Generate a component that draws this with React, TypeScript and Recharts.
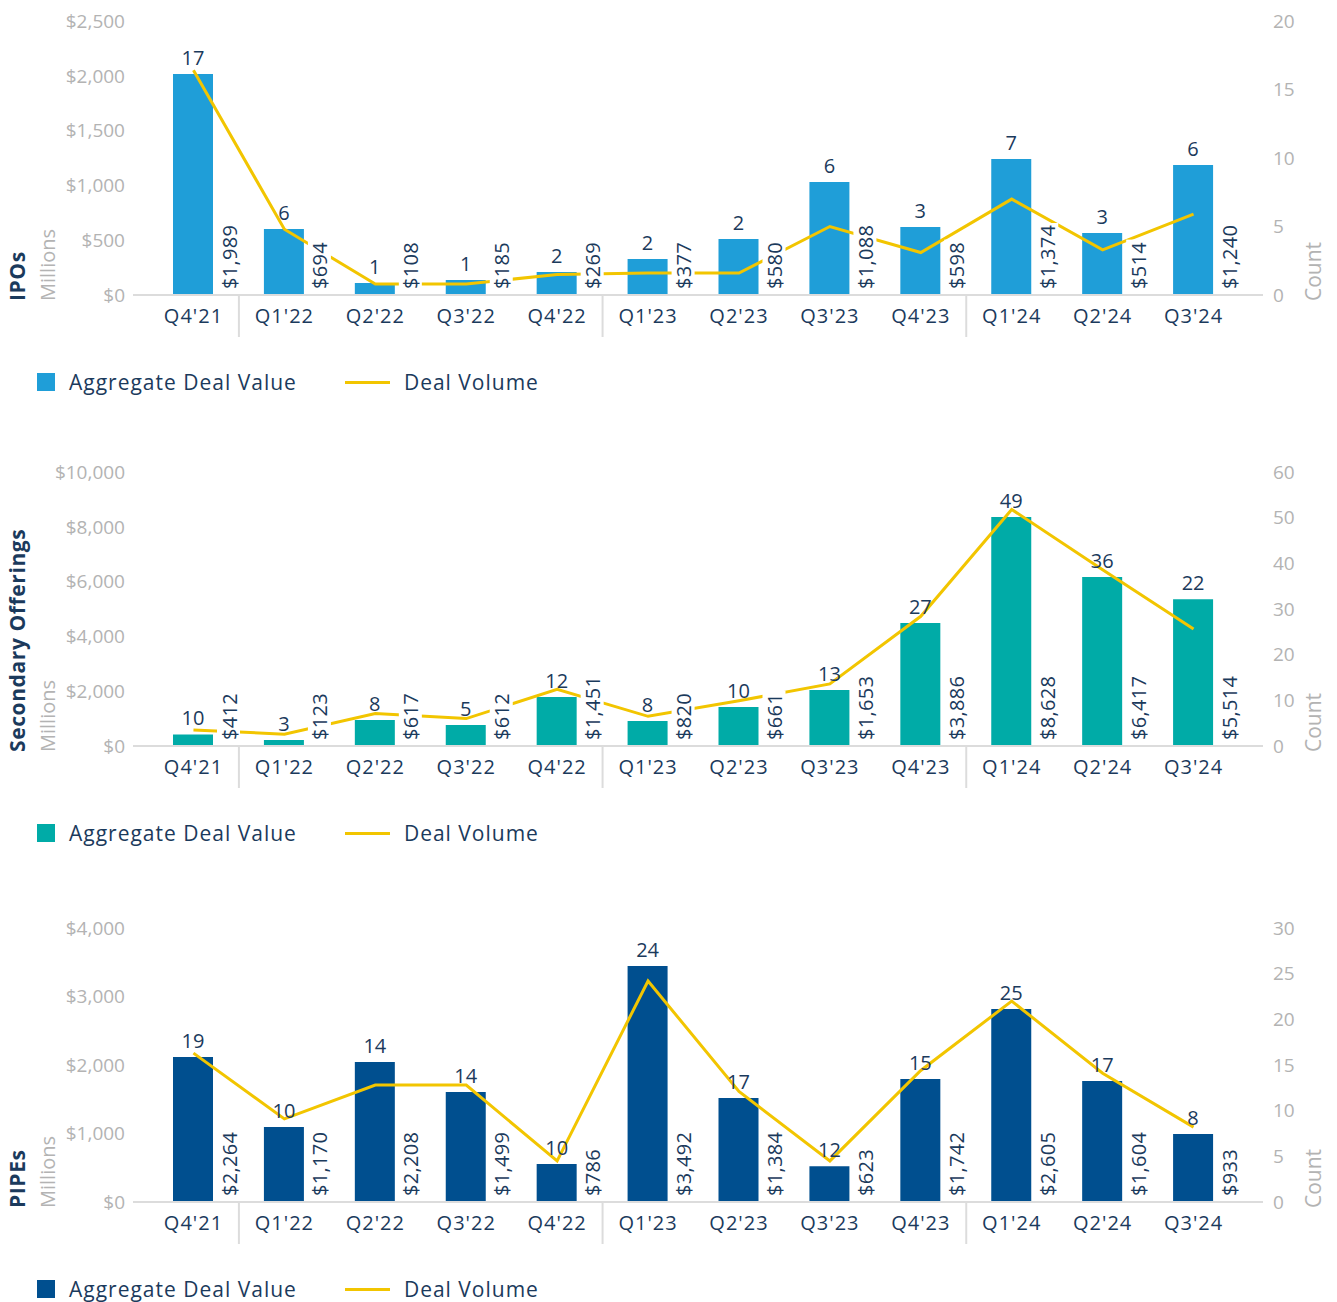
import {
  ComposedChart,
  Bar,
  Line,
  XAxis,
  YAxis,
  LabelList,
} from 'recharts';

const quarters = ["Q4'21", "Q1'22", "Q2'22", "Q3'22", "Q4'22", "Q1'23", "Q2'23", "Q3'23", "Q4'23", "Q1'24", "Q2'24", "Q3'24"];

// IPOs
const ipoValues = [2017, 602, 110, 137, 210, 328, 511, 1031, 620, 1241, 566, 1186];
const ipoValueLabels = ['$1,989', '$694', '$108', '$185', '$269', '$377', '$580', '$1,088', '$598', '$1,374', '$514', '$1,240'];
const ipoVolume = [16.4, 4.8, 0.8, 0.8, 1.5, 1.6, 1.6, 5.0, 3.1, 7.0, 3.3, 5.9];
const ipoCountLabels = [17, 6, 1, 1, 2, 2, 2, 6, 3, 7, 3, 6];

// Secondary offerings
const secValues = [420, 220, 950, 770, 1790, 910, 1420, 2040, 4490, 8360, 6170, 5360];
const secValueLabels = ['$412', '$123', '$617', '$612', '$1,451', '$820', '$661', '$1,653', '$3,886', '$8,628', '$6,417', '$5,514'];
const secVolume = [3.5, 2.6, 7.1, 6.0, 12.4, 6.5, 9.9, 13.6, 28.4, 51.8, 38.6, 25.6];
const secCountLabels = [10, 3, 8, 5, 12, 8, 10, 13, 27, 49, 36, 22];

// PIPEs
const pipeValues = [2117, 1095, 2044, 1606, 555, 3445, 1518, 521, 1796, 2818, 1766, 993];
const pipeValueLabels = ['$2,264', '$1,170', '$2,208', '$1,499', '$786', '$3,492', '$1,384', '$623', '$1,742', '$2,605', '$1,604', '$933'];
const pipeVolume = [16.3, 9.1, 12.8, 12.8, 4.5, 24.2, 12.1, 4.5, 14.4, 22.0, 14.1, 8.2];
const pipeCountLabels = [19, 10, 14, 14, 10, 24, 17, 12, 15, 25, 17, 8];

const ipoLeftTicks = [0, 500, 1000, 1500, 2000, 2500];
const ipoRightTicks = [0, 5, 10, 15, 20];
const secLeftTicks = [0, 2000, 4000, 6000, 8000, 10000];
const secRightTicks = [0, 10, 20, 30, 40, 50, 60];
const pipeLeftTicks = [0, 1000, 2000, 3000, 4000];
const pipeRightTicks = [0, 5, 10, 15, 20, 25, 30];

const FONT = '"Open Sans", sans-serif';
const NAVY = '#1b3a5c';
const GREY = '#b3b3b3';
const YELLOW = '#f2c500';
const PAD = { left: 15, right: 24 };

const money = (v: number) => '$' + v.toLocaleString('en-US');

function textLen(s: string) {
  let w = 0;
  for (const c of s) w += c === ',' ? 5 : 11.6;
  return w;
}

function QuarterTick(props: any) {
  const { x, y, payload } = props;
  const half = payload.offset ?? 45.45;
  const isYearStart = String(payload.value).startsWith('Q1');
  return (
    <g>
      {isYearStart && (
        <line x1={x - half} x2={x - half} y1={y - 14} y2={y + 28} stroke="#dcdcdc" strokeWidth={2} />
      )}
      <text x={x} y={y} dy={14} textAnchor="middle" fill={NAVY} fontSize={20} letterSpacing={1} fontFamily={FONT}>
        {payload.value}
      </text>
    </g>
  );
}

function CountLabel(props: any) {
  const { x, y, width, value } = props;
  return (
    <text x={x + width / 2} y={y - 9} textAnchor="middle" fill={NAVY} fontSize={20} fontFamily={FONT}>
      {value}
    </text>
  );
}

function ValueLabel(props: any) {
  const { x, y, width, height, value } = props;
  const cx = x + width + 16;
  const bottom = y + height - 6;
  const len = textLen(String(value));
  return (
    <g>
      <rect x={cx - 12} y={bottom - len - 3} width={23} height={len + 6} fill="#fff" />
      <text
        transform={`translate(${cx},${bottom}) rotate(-90)`}
        textAnchor="start"
        dominantBaseline="central"
        fill={NAVY}
        fontSize={20}
        letterSpacing={0.3}
        fontFamily={FONT}
      >
        {value}
      </text>
    </g>
  );
}

interface PanelProps {
  title: string;
  color: string;
  values: number[];
  valueLabels: string[];
  volume: number[];
  countLabels: number[];
  leftTicks: number[];
  rightTicks: number[];
  top: number;
}

function Panel({ title, color, values, valueLabels, volume, countLabels, leftTicks, rightTicks, top }: PanelProps) {
  const data = quarters.map((q, i) => ({
    quarter: q,
    value: values[i],
    valueLabel: valueLabels[i],
    volume: volume[i],
    countLabel: countLabels[i],
  }));

  return (
    <div style={{ position: 'absolute', left: 0, top, width: 1337 }}>
      <ComposedChart width={1337} height={345} data={data} margin={{ top: 21, right: 0, bottom: 0, left: 0 }}>
        <XAxis
          dataKey="quarter"
          padding={PAD}
          axisLine={{ stroke: '#dcdcdc', strokeWidth: 2 }}
          tickLine={false}
          tickSize={0}
          tickMargin={14}
          height={50}
          interval={0}
          tick={<QuarterTick />}
        />
        <XAxis xAxisId="labels" dataKey="quarter" padding={PAD} hide />
        <YAxis
          yAxisId="left"
          width={133}
          domain={[0, leftTicks[leftTicks.length - 1]]}
          ticks={leftTicks}
          interval={0}
          axisLine={false}
          tickLine={false}
          tickFormatter={money}
          tick={{ fill: GREY, fontSize: 19, fontFamily: FONT }}
          label={{
            content: (p: any) => {
              const vb = p.viewBox;
              const base = vb.y + vb.height + 6;
              return (
                <g>
                  <text transform={`translate(${vb.x + 17},${base}) rotate(-90)`} dominantBaseline="central" fill={NAVY} fontSize={21} fontWeight={700} letterSpacing={0.6} fontFamily={FONT}>
                    {title}
                  </text>
                  <text transform={`translate(${vb.x + 47},${base}) rotate(-90)`} dominantBaseline="central" fill={GREY} fontSize={20} fontFamily={FONT}>
                    Millions
                  </text>
                </g>
              );
            },
          }}
        />
        <YAxis
          yAxisId="right"
          orientation="right"
          width={74}
          domain={[0, rightTicks[rightTicks.length - 1]]}
          ticks={rightTicks}
          interval={0}
          axisLine={false}
          tickLine={false}
          tickMargin={4}
          tick={{ fill: GREY, fontSize: 19, fontFamily: FONT, textAnchor: 'start' }}
          label={{
            content: (p: any) => {
              const vb = p.viewBox;
              return (
                <text transform={`translate(${vb.x + 50},${vb.y + vb.height + 6}) rotate(-90)`} dominantBaseline="central" fill={GREY} fontSize={21} fontFamily={FONT}>
                  Count
                </text>
              );
            },
          }}
        />
        <Bar yAxisId="left" dataKey="value" fill={color} barSize={40} isAnimationActive={false}>
          <LabelList dataKey="countLabel" content={<CountLabel />} />
        </Bar>
        <Line
          yAxisId="right"
          dataKey="volume"
          stroke={YELLOW}
          strokeWidth={3}
          dot={false}
          activeDot={false}
          isAnimationActive={false}
        />
        <Bar xAxisId="labels" yAxisId="left" dataKey="value" fill="transparent" barSize={40} isAnimationActive={false}>
          <LabelList dataKey="valueLabel" content={<ValueLabel />} />
        </Bar>
      </ComposedChart>
      <div
        style={{
          position: 'absolute',
          left: 37,
          top: 371,
          height: 22,
          lineHeight: '22px',
          display: 'flex',
          alignItems: 'center',
          fontFamily: FONT,
          fontSize: 21,
          letterSpacing: 1,
          color: NAVY,
          whiteSpace: 'nowrap',
        }}
      >
        <span style={{ display: 'inline-block', width: 18, height: 18, background: color }} />
        <span style={{ marginLeft: 14 }}>Aggregate Deal Value</span>
        <span style={{ display: 'inline-block', width: 45, height: 3, background: YELLOW, marginLeft: 48 }} />
        <span style={{ marginLeft: 14 }}>Deal Volume</span>
      </div>
    </div>
  );
}

export default function App() {
  return (
    <div style={{ position: 'absolute', left: 0, top: 0, width: 1337, height: 1302, background: '#fff', overflow: 'hidden' }}>
      <Panel title="IPOs" color="#1f9ed8" values={ipoValues} valueLabels={ipoValueLabels} volume={ipoVolume} countLabels={ipoCountLabels} leftTicks={ipoLeftTicks} rightTicks={ipoRightTicks} top={0} />
      <Panel title="Secondary Offerings" color="#00aba7" values={secValues} valueLabels={secValueLabels} volume={secVolume} countLabels={secCountLabels} leftTicks={secLeftTicks} rightTicks={secRightTicks} top={451} />
      <Panel title="PIPEs" color="#004f8f" values={pipeValues} valueLabels={pipeValueLabels} volume={pipeVolume} countLabels={pipeCountLabels} leftTicks={pipeLeftTicks} rightTicks={pipeRightTicks} top={907} />
    </div>
  );
}
